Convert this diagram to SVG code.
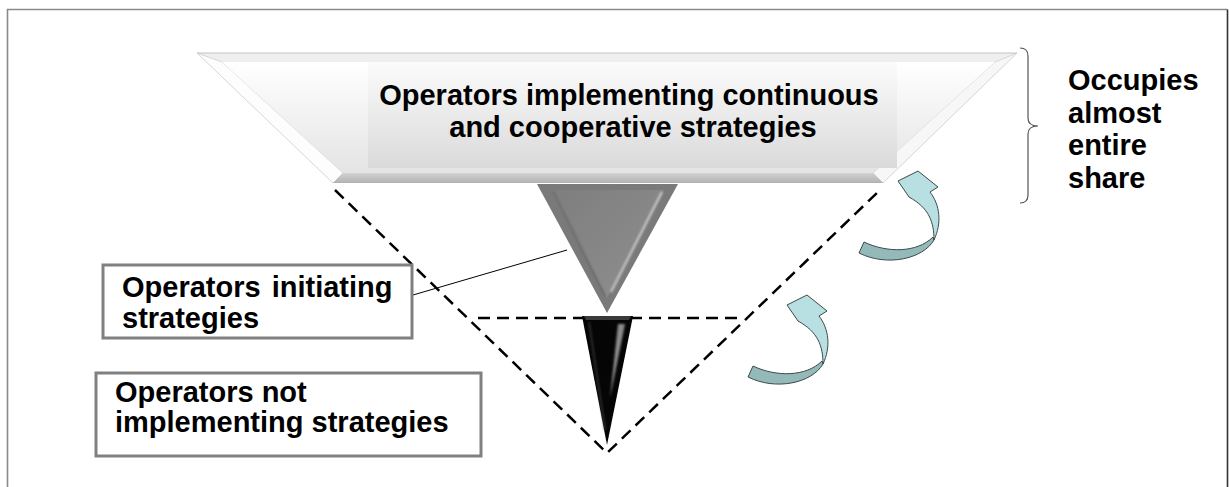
<svg xmlns="http://www.w3.org/2000/svg" width="1229" height="487" viewBox="0 0 1229 487">
  <style>
    .lbl { font-family: "Liberation Sans", Arial, sans-serif; font-weight: bold; font-size: 29px; fill: #000; }
    .box { fill: #fff; stroke: #808080; stroke-width: 3; }
    .dash { fill: none; stroke: #000; stroke-width: 2.5; stroke-dasharray: 12 7; }
    .lead { fill: none; stroke: #000; stroke-width: 1; }
    .brace { fill: none; stroke: #555; stroke-width: 1.2; }
    .arLight { fill: #b8dfe2; stroke: #3c4a4a; stroke-width: 1; stroke-linejoin: round; }
    .arDark { fill: #94b9b9; stroke: #3c4a4a; stroke-width: 1; stroke-linejoin: round; }
  </style>
  <defs>
    <linearGradient id="faceGrad" x1="0" y1="0" x2="0" y2="1">
      <stop offset="0" stop-color="#ffffff"/>
      <stop offset="1" stop-color="#e4e4e4"/>
    </linearGradient>
    <linearGradient id="rectGrad" x1="0" y1="0" x2="0" y2="1">
      <stop offset="0" stop-color="#fbfbfb"/>
      <stop offset="1" stop-color="#dadada"/>
    </linearGradient>
    <linearGradient id="bottomBevel" x1="0" y1="0" x2="0" y2="1">
      <stop offset="0" stop-color="#d2d2d2"/>
      <stop offset="1" stop-color="#b2b2b2"/>
    </linearGradient>
    <linearGradient id="greyFace" x1="0" y1="0" x2="1" y2="1">
      <stop offset="0" stop-color="#7e7e7e"/>
      <stop offset="1" stop-color="#8f8f8f"/>
    </linearGradient>
    <filter id="soft" x="-20%" y="-20%" width="140%" height="140%">
      <feGaussianBlur stdDeviation="0.8"/>
    </filter>
    <!-- curved ribbon arrow, drawn at the lower position -->
    <g id="curvedArrow">
      <path class="arDark" d="M823,364 C812,383 776,391 748,377 L753,366 C776,377 806,377 822,361 Z"/>
      <path class="arLight" d="M798,321 L787,305 L807,295 L827,311 L819,316 C829,329 831,347 823,364 C823,346 818,332 798,321 Z"/>
    </g>
  </defs>

  <rect width="1229" height="487" fill="#fff"/>

  <!-- outer frame -->
  <g id="frame">
    <path d="M7.5,495 V9.5 H1227.5" fill="none" stroke="#8a8a8a" stroke-width="1.6"/>
    <path d="M1227.5,9.5 V495" fill="none" stroke="#333" stroke-width="1.6"/>
  </g>

  <!-- connectors: dashed outline, leader line, curved arrows -->
  <g id="connectors">
    <path class="dash" d="M335,190 L607,453 L880,190"/>
    <path class="dash" d="M478,318 H742"/>
    <path class="lead" d="M413,295 L567,250"/>
    <use href="#curvedArrow"/>
    <use href="#curvedArrow" transform="translate(111,-124)"/>
  </g>

  <!-- top tier: wide bevelled trapezoid -->
  <g id="tier-top">
    <polygon points="197,53 1017,53 883,183 333,183" fill="#d6d6d6"/>
    <polygon points="197,53 1017,53 995,62 222,62" fill="#efefef"/>
    <polygon points="197,53 222,62 343,173 333,183" fill="#fdfdfd" stroke="#d0d0d0" stroke-width="0.8"/>
    <polygon points="1017,53 995,62 873,173 883,183" fill="#f7f7f7" stroke="#d0d0d0" stroke-width="0.8"/>
    <polygon points="333,183 343,173 873,173 883,183" fill="url(#bottomBevel)"/>
    <polygon points="222,62 995,62 873,173 343,173" fill="url(#faceGrad)"/>
    <line x1="197" y1="53" x2="1017" y2="53" stroke="#c4c4c4" stroke-width="1.2"/>
    <rect x="368" y="62" width="529" height="106" fill="url(#rectGrad)"/>
    <text class="lbl" text-anchor="middle">
      <tspan x="633" y="105">Operators implementing continuous</tspan>
      <tspan x="633" y="137">and cooperative strategies</tspan>
    </text>
  </g>

  <!-- middle tier: grey triangle -->
  <g id="tier-middle">
    <polygon points="537,184 678,184 607,313" fill="#7a7a7a"/>
    <polygon points="551,190 664,190 607,298" fill="url(#greyFace)"/>
    <line x1="662" y1="192" x2="611" y2="292" stroke="#cfcfcf" stroke-width="2" filter="url(#soft)"/>
    <line x1="553" y1="191" x2="605" y2="296" stroke="#666" stroke-width="1.5" filter="url(#soft)"/>
  </g>

  <!-- bottom tier: black spike -->
  <g id="tier-bottom">
    <polygon points="582,316 633,316 607,445" fill="#050505"/>
    <polygon points="584,316 631,316 629,320 586,320" fill="#3a3a3a"/>
    <polygon points="618,324 625,324 610,398" fill="#8a8a8a" filter="url(#soft)"/>
    <line x1="589" y1="322" x2="605" y2="430" stroke="#444" stroke-width="1.2" filter="url(#soft)"/>
  </g>

  <!-- share annotation -->
  <g id="share-note">
    <path class="brace" d="M1020,48 Q1028,48 1028,56 V118 Q1028,126 1038,126 Q1028,126 1028,134 V195 Q1028,203 1020,203"/>
    <text class="lbl">
      <tspan x="1068" y="90">Occupies</tspan>
      <tspan x="1068" y="122.5">almost</tspan>
      <tspan x="1068" y="155">entire</tspan>
      <tspan x="1068" y="187.5">share</tspan>
    </text>
  </g>

  <!-- label: initiating -->
  <g id="label-initiating">
    <rect class="box" x="103" y="265" width="309" height="73"/>
    <text class="lbl" word-spacing="3">
      <tspan x="122" y="297">Operators initiating</tspan>
      <tspan x="122" y="328">strategies</tspan>
    </text>
  </g>

  <!-- label: not implementing -->
  <g id="label-not-implementing">
    <rect class="box" x="96" y="373" width="385" height="83"/>
    <text class="lbl">
      <tspan x="115" y="402">Operators not</tspan>
      <tspan x="115" y="432">implementing strategies</tspan>
    </text>
  </g>
</svg>
